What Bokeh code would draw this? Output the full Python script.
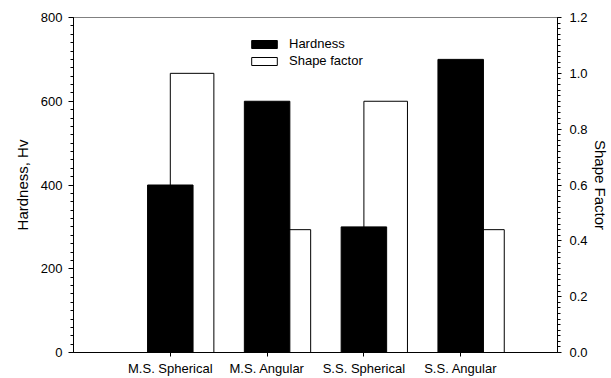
from bokeh.plotting import figure
from bokeh.models import (Range1d, LinearAxis, FixedTicker, NumeralTickFormatter,
                          Legend, LegendItem, ColumnDataSource)
from bokeh.embed import file_html
from bokeh.resources import INLINE

# Powder types and their measured properties
categories = ["M.S. Spherical", "M.S. Angular", "S.S. Spherical", "S.S. Angular"]
hardness = [400, 600, 300, 700]          # Vickers hardness, Hv
shape_factor = [1.0, 0.44, 0.9, 0.44]    # dimensionless

# Axis tick values
hardness_ticks = [0, 200, 400, 600, 800]
shape_ticks = [0.0, 0.2, 0.4, 0.6, 0.8, 1.0, 1.2]

FONT = "Liberation Sans"
positions = list(range(1, len(categories) + 1))
x_end = len(categories) + 1

src = ColumnDataSource(data=dict(
    x=positions,
    x_shape=[x + 0.225 for x in positions],
    hardness=hardness,
    shape=shape_factor,
))

p = figure(width=611, height=378, output_backend="svg", toolbar_location=None,
           x_range=Range1d(0, x_end), y_range=Range1d(0, hardness_ticks[-1]),
           min_border_left=73, min_border_right=54, min_border_top=17,
           min_border_bottom=26)
p.extra_y_ranges = {"shape": Range1d(0, shape_ticks[-1])}

p.xgrid.visible = False
p.ygrid.visible = False
p.outline_line_color = "#808080"
p.background_fill_color = "white"
p.border_fill_color = "white"

# Shape factor bars sit right of each category, hardness bars are drawn on top
white = p.vbar(x="x_shape", top="shape", width=0.45, source=src,
               y_range_name="shape", fill_color="white", line_color="black",
               line_width=1)
black = p.vbar(x="x", top="hardness", width=0.47, source=src,
               fill_color="black", line_color="black", line_width=1)


def minor(ticks, n):
    step = (ticks[1] - ticks[0]) / n
    count = int(round((ticks[-1] - ticks[0]) / step))
    return [round(ticks[0] + i * step, 6) for i in range(count + 1)]


# Bottom axis with category names
xax = p.xaxis[0]
xax.ticker = FixedTicker(ticks=positions)
xax.major_label_overrides = {x: c for x, c in zip(positions, categories)}
xax.minor_tick_line_color = None
xax.major_tick_in = 0
xax.major_tick_out = 4
xax.major_label_standoff = 4
xax.major_label_text_font = FONT
xax.major_label_text_font_size = "13px"
xax.major_label_text_color = "black"
xax.axis_line_color = "black"
xax.major_tick_line_color = "black"

# Left axis: hardness
yax = p.yaxis[0]
yax.ticker = FixedTicker(ticks=hardness_ticks, minor_ticks=minor(hardness_ticks, 10))
yax.major_tick_in = 0
yax.major_tick_out = 5
yax.minor_tick_in = 0
yax.minor_tick_out = 3
yax.minor_tick_line_color = "black"
yax.minor_tick_line_width = 1
yax.major_label_standoff = 6
yax.major_label_text_font = FONT
yax.major_label_text_font_size = "13px"
yax.major_label_text_color = "black"
yax.axis_label = "Hardness, Hv"
yax.axis_label_text_font = FONT
yax.axis_label_text_font_size = "15px"
yax.axis_label_text_font_style = "normal"
yax.axis_label_text_color = "black"
yax.axis_label_standoff = 7
yax.axis_line_color = "black"

# Right axis: shape factor
rax = LinearAxis(y_range_name="shape",
                 ticker=FixedTicker(ticks=shape_ticks, minor_ticks=minor(shape_ticks, 10)),
                 formatter=NumeralTickFormatter(format="0.0"))
rax.major_tick_in = 0
rax.major_tick_out = 4
rax.minor_tick_in = 0
rax.minor_tick_out = 3
rax.minor_tick_line_color = "black"
rax.minor_tick_line_width = 1
rax.major_label_standoff = 8
rax.major_label_text_font = FONT
rax.major_label_text_font_size = "13px"
rax.major_label_text_color = "black"
rax.axis_line_color = "black"
rax.axis_label = "Shape Factor"
rax.axis_label_text_font = FONT
rax.axis_label_text_font_size = "15px"
rax.axis_label_text_font_style = "normal"
rax.axis_label_text_color = "black"
rax.axis_label_standoff = 1
p.add_layout(rax, "right")

legend = Legend(items=[LegendItem(label="Hardness", renderers=[black]),
                       LegendItem(label="Shape factor", renderers=[white])],
                location=(175, 284), orientation="vertical",
                border_line_color=None, background_fill_alpha=0,
                padding=0, margin=0, spacing=2,
                glyph_width=32, glyph_height=10, label_standoff=9,
                label_height=13, label_text_font=FONT,
                label_text_font_size="13px", label_text_color="black")
p.add_layout(legend)

open("out.html", "w").write(file_html(p, INLINE))
